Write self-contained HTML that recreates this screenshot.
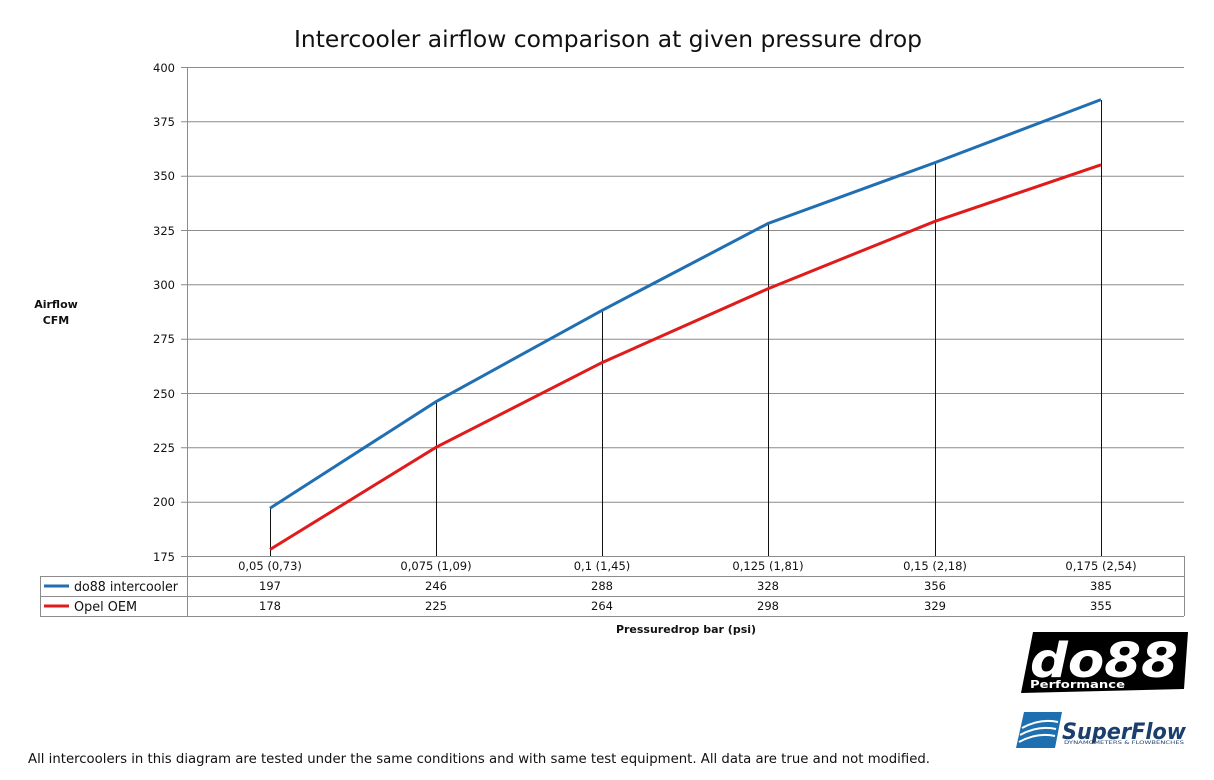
<!DOCTYPE html>
<html><head><meta charset="utf-8"><style>
body{margin:0;background:#fff;}
svg{display:block;font-family:"DejaVu Sans","Liberation Sans",sans-serif;}
</style></head><body>
<svg width="1214" height="780" viewBox="0 0 1214 780" xmlns="http://www.w3.org/2000/svg">
<rect width="1214" height="780" fill="#fff"/>
<text x="294" y="47" font-size="23" textLength="628" lengthAdjust="spacingAndGlyphs" fill="#111">Intercooler airflow comparison at given pressure drop</text>
<g stroke="#8c8c8c" stroke-width="1">
<line x1="181" y1="67.5" x2="1184" y2="67.5"/>
<line x1="181" y1="121.8" x2="1184" y2="121.8"/>
<line x1="181" y1="176.2" x2="1184" y2="176.2"/>
<line x1="181" y1="230.5" x2="1184" y2="230.5"/>
<line x1="181" y1="284.8" x2="1184" y2="284.8"/>
<line x1="181" y1="339.2" x2="1184" y2="339.2"/>
<line x1="181" y1="393.5" x2="1184" y2="393.5"/>
<line x1="181" y1="447.8" x2="1184" y2="447.8"/>
<line x1="181" y1="502.2" x2="1184" y2="502.2"/>
<line x1="181" y1="556.5" x2="1184" y2="556.5"/>
<line x1="187.5" y1="67" x2="187.5" y2="616"/>
<line x1="1184.5" y1="556" x2="1184.5" y2="616"/>
<line x1="40" y1="576.5" x2="1184" y2="576.5"/>
<line x1="40" y1="596.5" x2="1184" y2="596.5"/>
<line x1="40" y1="616.5" x2="1184" y2="616.5"/>
<line x1="40.5" y1="576" x2="40.5" y2="616"/>
</g>
<g font-size="11.5" fill="#111" text-anchor="end">
<text x="175" y="72">400</text><text x="175" y="126">375</text><text x="175" y="180">350</text>
<text x="175" y="235">325</text><text x="175" y="289">300</text><text x="175" y="343">275</text>
<text x="175" y="398">250</text><text x="175" y="452">225</text><text x="175" y="506">200</text>
<text x="175" y="561">175</text>
</g>
<text x="56" y="308" font-size="11" font-weight="bold" text-anchor="middle" fill="#111">Airflow</text>
<text x="56" y="324" font-size="11" font-weight="bold" text-anchor="middle" fill="#111">CFM</text>
<g stroke="#111" stroke-width="1">
<line x1="270.5" y1="508" x2="270.5" y2="556"/>
<line x1="436.5" y1="402" x2="436.5" y2="556"/>
<line x1="602.5" y1="310" x2="602.5" y2="556"/>
<line x1="768.5" y1="223" x2="768.5" y2="556"/>
<line x1="935.5" y1="162" x2="935.5" y2="556"/>
<line x1="1101.5" y1="100" x2="1101.5" y2="556"/>
</g>
<polyline fill="none" stroke="#1f6fb2" stroke-width="3" points="270,508.2 436,401.7 602,310.4 768,223.5 935,162.6 1101,99.6"/>
<polyline fill="none" stroke="#e01b1b" stroke-width="3" points="270,549.5 436,447.3 602,362.6 768,288.7 935,221.3 1101,164.8"/>
<g font-size="11.5" fill="#111" text-anchor="middle">
<text x="270" y="570">0,05 (0,73)</text><text x="436" y="570">0,075 (1,09)</text><text x="602" y="570">0,1 (1,45)</text>
<text x="768" y="570">0,125 (1,81)</text><text x="935" y="570">0,15 (2,18)</text><text x="1101" y="570">0,175 (2,54)</text>
<text x="270" y="590">197</text><text x="436" y="590">246</text><text x="602" y="590">288</text>
<text x="768" y="590">328</text><text x="935" y="590">356</text><text x="1101" y="590">385</text>
<text x="270" y="610">178</text><text x="436" y="610">225</text><text x="602" y="610">264</text>
<text x="768" y="610">298</text><text x="935" y="610">329</text><text x="1101" y="610">355</text>
</g>
<line x1="44" y1="586" x2="69" y2="586" stroke="#1f6fb2" stroke-width="3"/>
<line x1="44" y1="606" x2="69" y2="606" stroke="#e01b1b" stroke-width="3"/>
<text x="74" y="591" font-size="13" textLength="104" lengthAdjust="spacingAndGlyphs" fill="#111">do88 intercooler</text>
<text x="74" y="611" font-size="13" textLength="63" lengthAdjust="spacingAndGlyphs" fill="#111">Opel OEM</text>
<text x="686" y="633" font-size="11" font-weight="bold" text-anchor="middle" fill="#111">Pressuredrop bar (psi)</text>
<polygon points="1033,632 1188,632 1184,689 1021,693" fill="#000"/>
<text x="1030" y="677" font-size="48" font-weight="bold" font-style="italic" textLength="148" lengthAdjust="spacingAndGlyphs" fill="#fff">do88</text>
<text x="1030" y="688" font-size="11" font-weight="bold" textLength="95" lengthAdjust="spacingAndGlyphs" fill="#fff">Performance</text>
<polygon points="1024,712 1062,712 1055,748 1016,748" fill="#1d6fb0"/>
<path d="M1022,728 q18,-10 36,-6 M1020,735 q18,-10 36,-6 M1019,742 q18,-10 36,-6" stroke="#fff" stroke-width="2" fill="none"/>
<text x="1062" y="739" font-size="22" font-weight="bold" font-style="italic" textLength="124" lengthAdjust="spacingAndGlyphs" fill="#1a3f6e">SuperFlow</text>
<text x="1064" y="744" font-size="4.5" textLength="120" lengthAdjust="spacingAndGlyphs" fill="#1a3f6e">DYNAMOMETERS &amp; FLOWBENCHES</text>
<text x="28" y="763" font-size="13" textLength="902" lengthAdjust="spacingAndGlyphs" fill="#111">All intercoolers in this diagram are tested under the same conditions and with same test equipment. All data are true and not modified.</text>
</svg>
</body></html>
